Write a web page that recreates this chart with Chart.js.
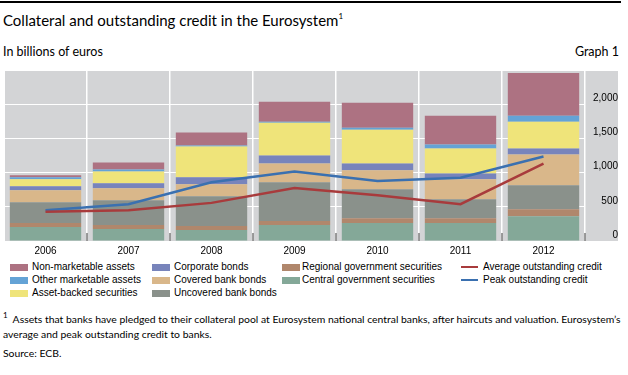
<!DOCTYPE html>
<html>
<head>
<meta charset="utf-8">
<script src="https://cdn.jsdelivr.net/npm/chart.js@4.4.1/dist/chart.umd.min.js"></script>
<style>
  body { margin: 0; width: 628px; height: 375px; position: relative; overflow: hidden; background: #fff; color: #000; font-family: Lato, sans-serif; }
  #raya { position: absolute; left: 0; top: 1px; width: 621px; border-top: 2px solid #000; }
  #titulo { position: absolute; left: 3px; top: 11px; font-size: 15px; white-space: nowrap; }
  #titulo sup, #nota sup { font-size: 8px; position: relative; top: -1px; }
  #subtitulo { position: absolute; left: 3px; top: 44px; font-size: 12.5px; white-space: nowrap; }
  #grafico { position: absolute; right: 9px; top: 44px; font-size: 12.5px; white-space: nowrap; }
  #lienzo { position: absolute; left: 0; top: 60px; width: 628px; height: 201px; }
  #leyenda { position: absolute; left: 0; top: 0; font-family: "Liberation Sans", Arial, sans-serif; font-size: 10px; }
  .item { position: absolute; white-space: nowrap; height: 12px; line-height: 12px; }
  .muestra { position: absolute; left: 0; top: 3px; width: 18px; height: 7px; }
  .linea { position: absolute; left: 0; top: 5px; width: 17px; height: 2px; }
  .item span.txt { position: absolute; top: 0; }
  #nota { position: absolute; left: 3px; top: 309px; font-size: 10.4px; line-height: 15px; white-space: nowrap; }
  #fuente { position: absolute; left: 3px; top: 347px; font-size: 10.4px; white-space: nowrap; }
</style>
</head>
<body>
<div id="raya"></div>
<div id="titulo">Collateral and outstanding credit in the Eurosystem<sup>1</sup></div>
<div id="subtitulo">In billions of euros</div>
<div id="grafico">Graph 1</div>
<div id="lienzo"><canvas id="graficaColateral"></canvas></div>
<div id="leyenda"></div>
<div id="nota"><sup>1</sup>&nbsp; Assets that banks have pledged to their collateral pool at Eurosystem national central banks, after haircuts and valuation. Eurosystem’s<br>average and peak outstanding credit to banks.</div>
<div id="fuente">Source: ECB.</div>

<script>
// Datos (miles de millones de euros)
const anios = ['2006', '2007', '2008', '2009', '2010', '2011', '2012'];
const gobiernoCentral = [203, 174, 160, 232, 262, 262, 363];
const gobiernoRegional = [59, 58, 58, 59, 72, 72, 102];
const bonosNoGarantizados = [305, 364, 436, 566, 422, 276, 349];
const bonosGarantizados = [174, 174, 174, 276, 276, 291, 450];
const bonosCorporativos = [58, 73, 102, 117, 101, 87, 87];
const titulizaciones = [102, 174, 450, 479, 494, 363, 393];
const otrosNegociables = [29, 29, 15, 15, 29, 58, 87];
const noNegociables = [29, 102, 189, 290, 364, 422, 625];
const creditoMedio = [426, 450, 557, 775, 668, 538, 1129];
const creditoMaximo = [450, 538, 857, 1017, 876, 925, 1235];
const ticksY = [0, 500, 1000, 1500, 2000];

// Función para una serie de barras apiladas
function serieBarra(etiqueta, datos, color) {
  return { type: 'bar', label: etiqueta, data: datos, backgroundColor: color, borderWidth: 0, order: 2, stack: 'colateral' };
}

function serieLinea(etiqueta, datos, color, pila) {
  return {
    type: 'line', label: etiqueta, data: datos, borderColor: color, backgroundColor: color,
    borderWidth: 2.5, pointRadius: 0, tension: 0, order: 1, stack: pila, fill: false
  };
}

// Orden de la leyenda (por columnas)
const series = [
  serieBarra('Non-marketable assets', noNegociables, '#ad7282'),
  serieBarra('Other marketable assets', otrosNegociables, '#64a3d6'),
  serieBarra('Asset-backed securities', titulizaciones, '#efe47a'),
  serieBarra('Corporate bonds', bonosCorporativos, '#7884bb'),
  serieBarra('Covered bank bonds', bonosGarantizados, '#d9b78a'),
  serieBarra('Uncovered bank bonds', bonosNoGarantizados, '#8a918b'),
  serieBarra('Regional government securities', gobiernoRegional, '#b0876c'),
  serieBarra('Central government securities', gobiernoCentral, '#84a898'),
  serieLinea('Average outstanding credit', creditoMedio, '#a83b3c', 'medio'),
  serieLinea('Peak outstanding credit', creditoMaximo, '#3a70b0', 'maximo')
];

// Las barras se apilan desde abajo: central primero
const barras = series.filter(s => s.type === 'bar').slice().reverse();
const lineas = series.filter(s => s.type === 'line');

// Fondo gris y marcas pequeñas entre categorías
const fondo = {
  id: 'fondo',
  beforeDraw(chart) {
    const { ctx, chartArea: a, scales: { y } } = chart;
    ctx.save();
    ctx.fillStyle = '#d3d4d6';
    ctx.fillRect(a.left + 1, a.top, y.right - a.left - 1, a.bottom - a.top);
    ctx.restore();
  },
  afterDraw(chart) {
    const { ctx, chartArea: a } = chart;
    const paso = (a.right - a.left) / anios.length;
    ctx.save();
    ctx.strokeStyle = '#7a7a7a';
    ctx.lineWidth = 1.5;
    for (let i = 1; i <= anios.length; i++) {
      const x = a.left + paso * i;
      ctx.beginPath();
      ctx.moveTo(x, a.bottom - 8);
      ctx.lineTo(x, a.bottom);
      ctx.stroke();
    }
    ctx.restore();
  }
};

const ctx = document.getElementById('graficaColateral').getContext('2d');
new Chart(ctx, {
  type: 'bar',
  data: { labels: anios, datasets: [...barras, ...lineas] },
  plugins: [fondo],
  options: {
    responsive: true,
    maintainAspectRatio: false,
    animation: false,
    layout: { padding: { top: 10, left: 4, right: 10, bottom: 0 } },
    datasets: { bar: { categoryPercentage: 1, barPercentage: 0.86 } },
    plugins: { legend: { display: false }, tooltip: { enabled: false } },
    scales: {
      x: {
        stacked: true,
        grid: { color: '#ffffff', lineWidth: 1.5, drawTicks: false, offset: true },
        border: { display: false },
        ticks: { color: '#000', padding: 4, font: { family: 'Liberation Sans', size: 10 } },
        afterFit(escala) { escala.height = 20; }
      },
      y: {
        position: 'right',
        stacked: true,
        min: 0,
        max: 2484,
        grid: { color: '#ffffff', lineWidth: 1, drawTicks: false },
        border: { display: false },
        afterBuildTicks(escala) { escala.ticks = ticksY.map(v => ({ value: v })); },
        afterFit(escala) { escala.width = 33; },
        ticks: {
          color: '#000', padding: 5, crossAlign: 'far', labelOffset: -6,
          font: { family: 'Liberation Sans', size: 10 },
          callback: v => v.toLocaleString('en-US')
        }
      }
    }
  }
});

// Leyenda HTML en columnas
const columnasX = [10, 152, 282, 461];
const textoX = [22, 22, 20, 22];
const filasY = [261, 274, 287];
const porColumna = [3, 3, 2, 2];
const leyenda = document.getElementById('leyenda');
let k = 0;
porColumna.forEach((n, c) => {
  for (let f = 0; f < n; f++, k++) {
    const s = series[k];
    const item = document.createElement('div');
    item.className = 'item';
    item.style.left = columnasX[c] + 'px';
    item.style.top = filasY[f] + 'px';
    const marca = document.createElement('span');
    marca.className = s.type === 'line' ? 'linea' : 'muestra';
    marca.style.background = s.type === 'line' ? s.borderColor : s.backgroundColor;
    const txt = document.createElement('span');
    txt.className = 'txt';
    txt.style.left = textoX[c] + 'px';
    txt.textContent = s.label;
    item.appendChild(marca);
    item.appendChild(txt);
    leyenda.appendChild(item);
  }
});
</script>
</body>
</html>
